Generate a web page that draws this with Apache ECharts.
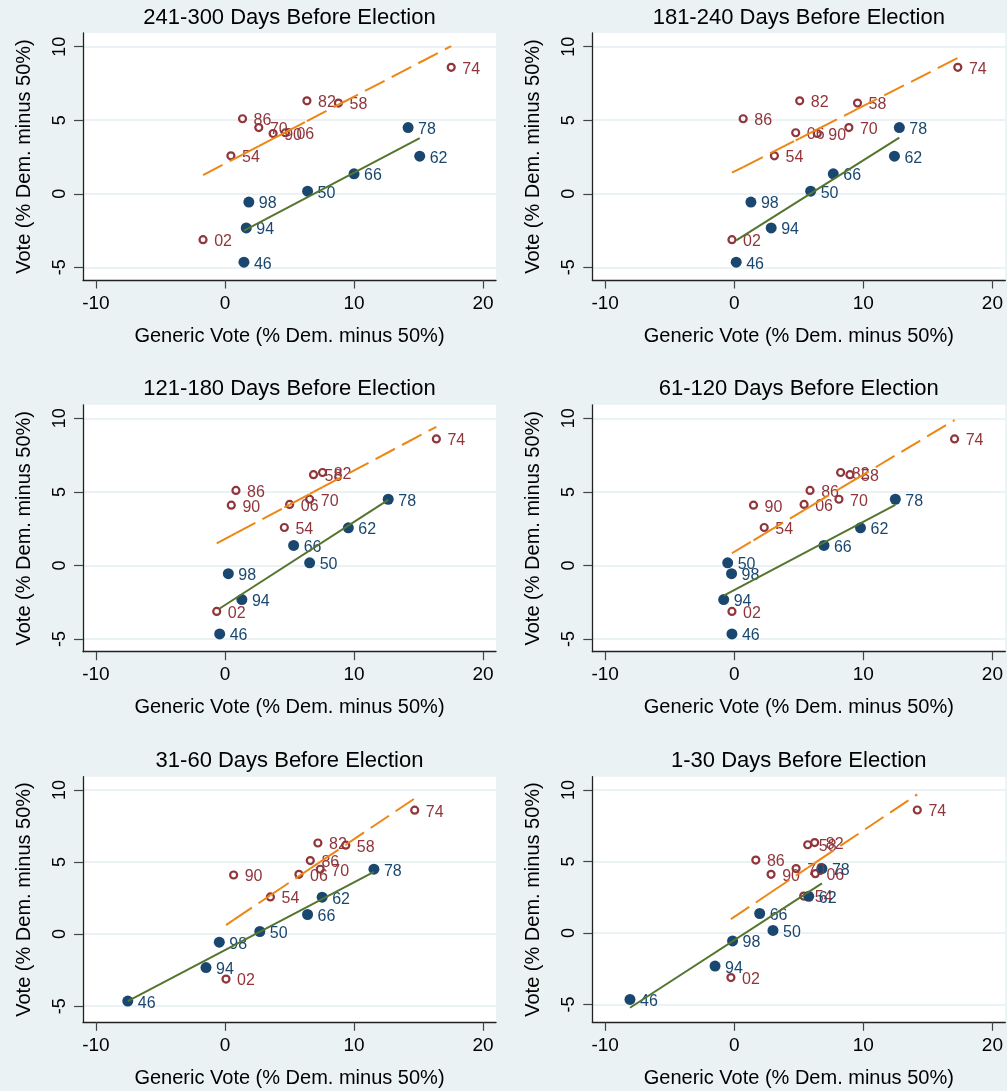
<!DOCTYPE html>
<html><head><meta charset="utf-8">
<script src="https://cdn.jsdelivr.net/npm/echarts@6/dist/echarts.min.js"></script>
<style>html,body{margin:0;padding:0;background:#EAF2F3}#chart{width:1007px;height:1091px}</style>
</head><body><div id="chart"></div>
<script>
// ---- data ----
const years = ['46','50','54','58','62','66','70','74','78','82','86','90','94','98','02','06'];
const presidentParty = ['D','D','R','R','D','D','R','R','D','R','R','R','D','D','R','R'];
const vote = [-4.65, 0.18, 2.58, 6.17, 2.56, 1.36, 4.5, 8.6, 4.5, 6.32, 5.1, 4.1, -2.32, -0.56, -3.12, 4.15];
const panelTitles = ['241-300 Days Before Election','181-240 Days Before Election','121-180 Days Before Election','61-120 Days Before Election','31-60 Days Before Election','1-30 Days Before Election'];
const generic241_300 = [1.47, 6.40, 0.46, 8.79, 15.09, 10.0, 2.62, 17.53, 14.19, 6.35, 1.36, 3.73, 1.65, 1.85, -1.70, 4.68];
const generic181_240 = [0.15, 5.92, 3.11, 9.55, 12.41, 7.67, 8.88, 17.32, 12.79, 5.07, 0.69, 6.43, 2.86, 1.29, -0.18, 4.76];
const generic121_180 = [-0.41, 6.56, 4.60, 6.86, 9.56, 5.32, 6.56, 16.38, 12.65, 7.56, 0.85, 0.49, 1.31, 0.26, -0.64, 5.01];
const generic61_120 = [-0.18, -0.51, 2.32, 8.96, 9.78, 6.95, 8.11, 17.07, 12.48, 8.24, 5.87, 1.49, -0.82, -0.21, -0.18, 5.41];
const generic31_60 = [-7.53, 2.70, 3.52, 9.36, 7.53, 6.40, 7.38, 14.70, 11.54, 7.20, 6.61, 0.67, -1.47, -0.44, 0.08, 5.73];
const generic1_30 = [-8.08, 3.0, 5.38, 5.69, 5.77, 1.97, 4.79, 14.18, 6.79, 6.23, 1.67, 2.85, -1.49, -0.13, -0.26, 6.28];
const xTickValues = [-10, 0, 10, 20];
const yTickValues = [-5, 0, 5, 10];
const xAxisTitle = 'Generic Vote (% Dem. minus 50%)';
const yAxisTitle = 'Vote (% Dem. minus 50%)';

// ---- layout / style ----
const panelsX = [generic241_300, generic181_240, generic121_180, generic61_120, generic31_60, generic1_30];
const FONT = '"Liberation Sans", Arial, Helvetica, sans-serif';
const BG = '#EAF2F3';
const NAVY = '#1A476F', MAROON = '#90353B', GREEN = '#55752F', ORANGE = '#EC8614';
const colLeft = [83, 592.3], plotW = 413;
const rowTop = [33, 404.8, 776.7], rowH = [247, 246.9, 245.6];
const xExtent = [-11, 21];
const yExtent = [[-5.86,10.93],[-5.86,10.93],[-5.86,10.92],[-5.86,10.92],[-6.12,10.92],[-6.25,10.93]];

function fit(xs, ys) {
  const n = xs.length;
  const mx = xs.reduce((a,b)=>a+b,0)/n, my = ys.reduce((a,b)=>a+b,0)/n;
  let sxy = 0, sxx = 0;
  for (let i=0;i<n;i++){ sxy += (xs[i]-mx)*(ys[i]-my); sxx += (xs[i]-mx)*(xs[i]-mx); }
  const b = sxy/sxx, a = my - b*mx;
  return x => a + b*x;
}

const grids = [], xAxes = [], yAxes = [], series = [], graphics = [];
panelsX.forEach((xs, i) => {
  const col = i % 2, row = Math.floor(i / 2);
  const left = colLeft[col], top = rowTop[row], h = rowH[row];
  grids.push({left, top, width: plotW, height: h, show: true, backgroundColor: '#fff', borderWidth: 0, containLabel: false, outerBoundsMode: 'none'});
  xAxes.push({
    gridIndex: i, type: 'value', min: xExtent[0], max: xExtent[1],
    axisLine: {show: true, onZero: false, lineStyle: {color: '#222', width: 1.3}},
    axisTick: {show: true, length: 8.5, customValues: xTickValues, lineStyle: {color: '#444', width: 1.2}},
    axisLabel: {customValues: xTickValues, margin: 14, fontSize: 19, color: '#000', fontFamily: FONT},
    splitLine: {show: false},
    name: xAxisTitle, nameLocation: 'middle', nameGap: 46,
    nameTextStyle: {fontSize: 20, color: '#000', fontFamily: FONT}
  });
  yAxes.push({
    gridIndex: i, type: 'value', min: yExtent[i][0], max: yExtent[i][1],
    axisLine: {show: true, onZero: false, lineStyle: {color: '#222', width: 1.3}},
    axisTick: {show: true, length: 9, customValues: yTickValues, lineStyle: {color: '#444', width: 1.2}},
    axisLabel: {customValues: yTickValues, rotate: 90, margin: 14, fontSize: 18, color: '#000', fontFamily: FONT},
    splitLine: {show: true, lineStyle: {color: BG, width: 2}},
    name: yAxisTitle, nameLocation: 'middle', nameGap: 49, nameRotate: 90,
    nameTextStyle: {fontSize: 20, color: '#000', fontFamily: FONT}
  });
  graphics.push({type: 'text', x: left + plotW/2, y: top - 15.5, silent: true,
    style: {text: panelTitles[i], font: '22px ' + FONT, fill: '#000', align: 'center', verticalAlign: 'middle'}});

  const dem = [], rep = [];
  years.forEach((yr, k) => {
    const pt = [xs[k], vote[k], yr];
    (presidentParty[k] === 'D' ? dem : rep).push(pt);
  });
  series.push({
    type: 'scatter', xAxisIndex: i, yAxisIndex: i, data: rep, symbol: 'circle', symbolSize: 7,
    itemStyle: {color: 'rgba(255,255,255,0)', borderColor: MAROON, borderWidth: 2.2, opacity: 1},
    label: {show: true, position: 'right', distance: 6.5, offset: [0, 2], formatter: p => p.data[2], color: MAROON, fontSize: 16, fontFamily: FONT},
    z: 2
  });
  series.push({
    type: 'scatter', xAxisIndex: i, yAxisIndex: i, data: dem, symbol: 'circle', symbolSize: 11,
    itemStyle: {color: NAVY, opacity: 1},
    label: {show: true, position: 'right', distance: 4.5, offset: [0, 2], formatter: p => p.data[2], color: NAVY, fontSize: 16, fontFamily: FONT},
    z: 2
  });
  // fitted lines (OLS per group)
  const dx = dem.map(p=>p[0]).sort((a,b)=>a-b), rx = rep.map(p=>p[0]).sort((a,b)=>a-b);
  const fd = fit(dem.map(p=>p[0]), dem.map(p=>p[1]));
  const fr = fit(rep.map(p=>p[0]), rep.map(p=>p[1]));
  series.push({
    type: 'line', xAxisIndex: i, yAxisIndex: i, showSymbol: false, silent: true,
    data: [[dx[0], fd(dx[0])], [dx[dx.length-1], fd(dx[dx.length-1])]],
    lineStyle: {color: GREEN, width: 2}, z: 3
  });
  const segs = [];
  for (let k = 0; k < rx.length - 1; k++) segs.push([rx[k], fr(rx[k]), rx[k+1], fr(rx[k+1])]);
  series.push({
    type: 'custom', coordinateSystem: 'cartesian2d', xAxisIndex: i, yAxisIndex: i, silent: true,
    data: segs, encode: {x: [0, 2], y: [1, 3]}, z: 3,
    renderItem: (params, api) => {
      const p1 = api.coord([api.value(0), api.value(1)]);
      const p2 = api.coord([api.value(2), api.value(3)]);
      return {type: 'line', shape: {x1: p1[0], y1: p1[1], x2: p2[0], y2: p2[1]},
        style: {stroke: ORANGE, lineWidth: 2, lineDash: [22, 8], fill: null}};
    }
  });
});

const chart = echarts.init(document.getElementById('chart'), null, {renderer: 'canvas'});
chart.setOption({
  backgroundColor: BG, animation: false,
  grid: grids, xAxis: xAxes, yAxis: yAxes, series, graphic: graphics
});
</script></body></html>
